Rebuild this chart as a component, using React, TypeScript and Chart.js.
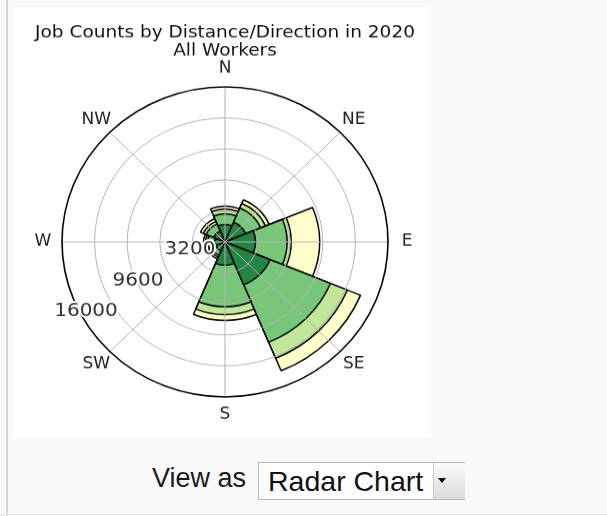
import React, { useEffect, useRef } from "react";
import { Chart, registerables } from "chart.js";

Chart.register(...registerables);

// ---- data ----
const directions = ["N", "NE", "E", "SE", "S", "SW", "W", "NW"];
const bandLabels = ["Less than 10 miles", "10 to 24 miles", "25 to 50 miles", "Greater than 50 miles"];
const lessThan10 = [1800, 2200, 3000, 4800, 2400, 1000, 1000, 1200];
const from10to24 = [1100, 1600, 3100, 6400, 4300, 500, 700, 800];
const from25to50 = [500, 500, 400, 1800, 800, 200, 200, 300];
const over50 = [300, 400, 2800, 1400, 600, 200, 200, 300];
const bandColors = ["#238443", "#78c679", "#c2e699", "#ffffcc"];
const radialTickLabels = [3200, 9600, 16000];
const gridStep = 3200;
const radialMax = 16000;
const titleLines = ["Job Counts by Distance/Direction in 2020", "All Workers"];

const bands = [lessThan10, from10to24, from25to50, over50];

const overlayPlugin = {
  id: "windroseOverlay",
  afterDatasetsDraw(chart: any) {
    const s = chart.scales.r;
    const ctx = chart.ctx;
    const R = s.getDistanceFromCenterForValue(radialMax);
    const half = Math.PI / directions.length;
    ctx.save();
    ctx.strokeStyle = "#b4b4b4";
    ctx.lineWidth = 1;
    directions.forEach((_, i) => {
      const a = s.getIndexAngle(i) + half - Math.PI / 2;
      ctx.beginPath();
      ctx.moveTo(s.xCenter, s.yCenter);
      ctx.lineTo(s.xCenter + R * Math.cos(a), s.yCenter + R * Math.sin(a));
      ctx.stroke();
    });
    ctx.restore();
  },
  afterDraw(chart: any) {
    const s = chart.scales.r;
    const ctx = chart.ctx;
    const R = s.getDistanceFromCenterForValue(radialMax);
    const half = Math.PI / directions.length;
    ctx.save();
    // direction labels
    ctx.font = "17px 'DejaVu Sans'";
    ctx.fillStyle = "#222";
    ctx.textAlign = "center";
    ctx.textBaseline = "middle";
    directions.forEach((d, i) => {
      const a = s.getIndexAngle(i) + half - Math.PI / 2;
      const dist = R + 19;
      ctx.fillText(d, s.xCenter + dist * Math.cos(a), s.yCenter + dist * Math.sin(a));
    });
    // radial tick labels
    ctx.font = "20px 'DejaVu Sans'";
    ctx.lineJoin = "round";
    radialTickLabels.forEach((v) => {
      const r = s.getDistanceFromCenterForValue(v);
      const x = s.xCenter - r * 0.7975 - 9;
      const y = s.yCenter + r * 0.5 - 8.6;
      ctx.strokeStyle = "#fff";
      ctx.lineWidth = 4;
      ctx.strokeText(String(v), x, y);
      ctx.fillStyle = "#333";
      ctx.fillText(String(v), x, y);
    });
    // title
    ctx.font = "18.5px 'DejaVu Sans'";
    ctx.fillStyle = "#111";
    ctx.textBaseline = "alphabetic";
    ctx.fillText(titleLines[0], s.xCenter, 32);
    ctx.fillText(titleLines[1], s.xCenter, 51);
    ctx.restore();
  },
};

function WindRose() {
  const ref = useRef<HTMLCanvasElement | null>(null);
  useEffect(() => {
    if (!ref.current) return;
    const datasets = bands.map((band, b) => ({
      label: bandLabels[b],
      data: directions.map((_, i) => bands.slice(0, b + 1).reduce((sum, arr) => sum + arr[i], 0)),
      backgroundColor: bandColors[b],
      borderColor: "#000",
      borderWidth: 1.5,
    }));
    const chart = new Chart(ref.current, {
      type: "polarArea",
      data: { labels: directions, datasets },
      options: {
        responsive: false,
        animation: false,
        devicePixelRatio: 1,
        layout: { padding: { left: 48, right: 43, top: 84, bottom: 42 } },
        plugins: { legend: { display: false }, tooltip: { enabled: false }, title: { display: false } },
        scales: {
          r: {
            min: 0,
            max: radialMax,
            startAngle: -22.5,
            ticks: { display: false, stepSize: gridStep, z: 1 },
            grid: {
              z: 1,
              circular: true,
              color: (c: any) => (c.tick && c.tick.value >= radialMax ? "#000" : "#b4b4b4"),
              lineWidth: (c: any) => (c.tick && c.tick.value >= radialMax ? 1.6 : 1),
            },
            angleLines: { display: false },
            pointLabels: { display: false },
          },
        },
      } as any,
      plugins: [overlayPlugin],
    });
    return () => chart.destroy();
  }, []);
  return (
    <canvas
      ref={ref}
      width={417}
      height={452}
      style={{ display: "block", width: 417, height: 452, transform: "scaleY(0.951)", transformOrigin: "0 0" }}
    />
  );
}

export default function App() {
  return (
    <div
      style={{
        position: "relative",
        width: 607,
        height: 516,
        background: "#f9f9f9",
        overflow: "hidden",
        fontFamily: "'Liberation Sans', Arial, sans-serif",
      }}
    >
      <style>{"body{margin:0;background:#f9f9f9}"}</style>
      <div style={{ position: "absolute", left: 6, top: 0, width: 2, height: 516, background: "#d6d6d6" }} />
      <div style={{ position: "absolute", left: 14, top: 7, width: 417, height: 430, background: "#fff", overflow: "hidden" }}>
        <WindRose />
      </div>
      <div style={{ position: "absolute", left: 152, top: 465, fontSize: 27, lineHeight: "27px", color: "#1a1a1a", whiteSpace: "nowrap" }}>
        View as
      </div>
      <div
        style={{
          position: "absolute",
          left: 258,
          top: 462,
          width: 207,
          height: 38,
          boxSizing: "border-box",
          border: "1px solid #b8b8b8",
          background: "#fff",
        }}
      >
        <div style={{ position: "absolute", left: 9, top: 2, fontSize: 28.5, lineHeight: "32px", color: "#111", whiteSpace: "nowrap" }}>
          Radar Chart
        </div>
        <div
          style={{
            position: "absolute",
            left: 174,
            top: 0,
            width: 31,
            height: 36,
            borderLeft: "1px solid #c8c8c8",
            background: "linear-gradient(#fafafa, #dcdcdc)",
          }}
        >
          <div
            style={{
              position: "absolute",
              left: 4,
              top: 15,
              width: 0,
              height: 0,
              borderLeft: "4px solid transparent",
              borderRight: "4px solid transparent",
              borderTop: "5px solid #000",
            }}
          />
        </div>
      </div>
      <div style={{ position: "absolute", left: 0, top: 514, width: 607, height: 1, background: "#e4e4e4" }} />
    </div>
  );
}
